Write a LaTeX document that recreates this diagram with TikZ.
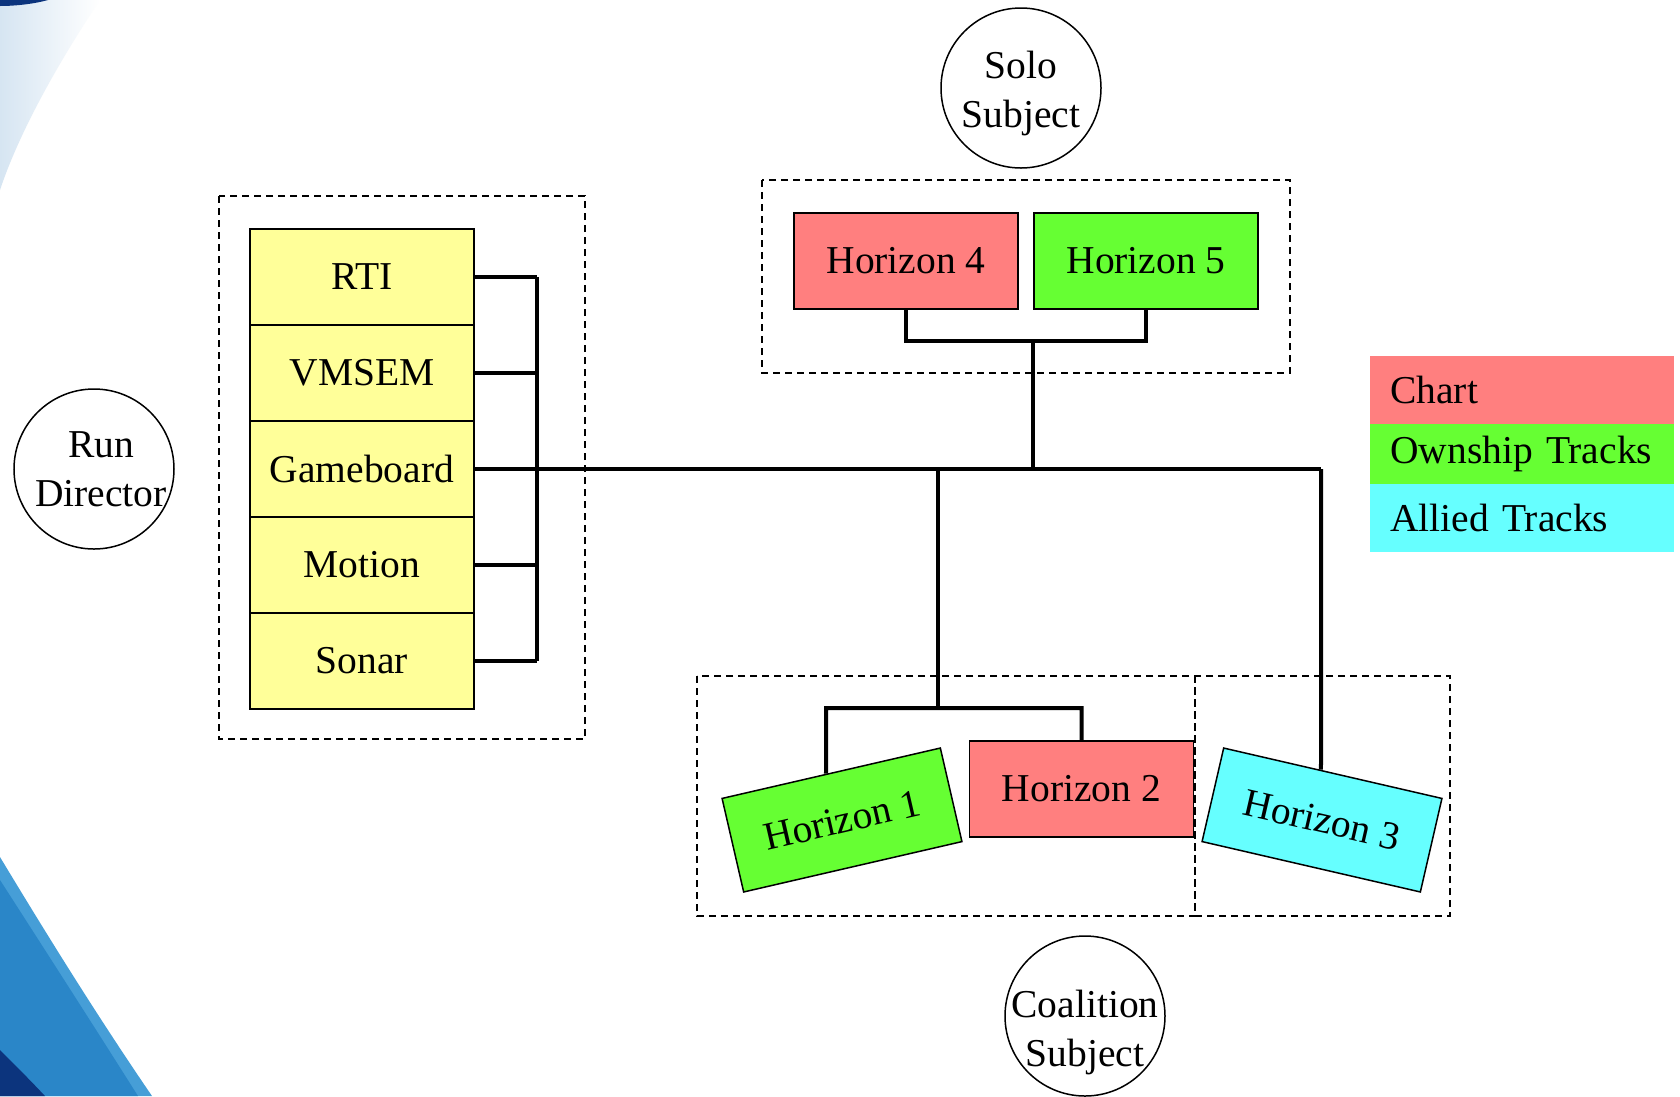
\documentclass[tikz,border=0pt]{standalone}
\usepackage{fontspec}
\setmainfont{Liberation Serif}
\usetikzlibrary{calc}
\definecolor{cpink}{RGB}{255,127,127}
\definecolor{cgreen}{RGB}{102,255,51}
\definecolor{ccyan}{RGB}{102,255,255}
\definecolor{cyellow}{RGB}{255,255,153}
\definecolor{bgblue}{RGB}{42,134,200}
\definecolor{bgblue2}{RGB}{70,158,215}
\definecolor{bgnavy}{RGB}{12,52,125}
\definecolor{bglight}{RGB}{214,229,242}
\newcommand{\twolines}[3]{\smash{\makebox[0pt]{\raisebox{#1}{\fontsize{39.5}{49}\selectfont\begin{tabular}{@{}c@{}}#2\\#3\end{tabular}}}}}
\begin{document}
\begin{tikzpicture}[x=1pt,y=-1pt,
 every node/.style={font=\fontsize{39.5}{48}\selectfont},
 hbox/.style={draw=black, line width=1.5pt, minimum width=224pt, minimum height=96pt, inner sep=0pt},
 stackbox/.style={hbox, fill=cyellow},
 subj/.style={circle, draw=black, line width=1.5pt, minimum size=160pt, inner sep=0pt, fill=white},
 grp/.style={draw=black, line width=1.5pt, dash pattern=on 7pt off 5pt},
 wire/.style={draw=black, line width=4pt},
 legrow/.style={anchor=north west, minimum width=304pt, text width=264pt, inner xsep=20pt, inner ysep=0pt, align=left}
]
\useasboundingbox (0,0) rectangle (1680,1096);
\fill[white] (0,0) rectangle (1680,1096);
% background swoosh
\shade[left color=bglight, right color=white] (0,0) -- (100,0) .. controls (60,60) and (20,130) .. (0,190) -- cycle;
\fill[bgnavy] (0,0) -- (48,0) .. controls (30,5) and (10,6) .. (0,6) -- cycle;
\fill[bgblue2] (0,857) .. controls (50,940) and (100,1020) .. (152,1096) -- (0,1096) -- cycle;
\fill[bgblue] (0,880) .. controls (45,950) and (90,1020) .. (138,1096) -- (0,1096) -- cycle;
\fill[bgnavy] (0,1050) .. controls (15,1065) and (30,1080) .. (45,1096) -- (0,1096) -- cycle;

% groups
\draw[grp] (219,196) rectangle (585,739);
\draw[grp] (762,180) rectangle (1290,373);
\draw[grp] (697,676) rectangle (1195,916);
\draw[grp] (1195,676) rectangle (1450,916);

% stack
\node[stackbox] (rti) at (362,277) {RTI};
\node[stackbox] (vmsem) at (362,373) {VMSEM};
\node[stackbox] (game) at (362,469) {Gameboard};
\node[stackbox] (motion) at (362,565) {Motion};
\node[stackbox] (sonar) at (362,661) {Sonar};

% horizons
\node[hbox, fill=cpink] (h4) at (906,261) {Horizon 4};
\node[hbox, fill=cgreen] (h5) at (1146,261) {Horizon 5};
\node[hbox, fill=cpink] (h2) at (1081.5,789) {Horizon 2};
\node[hbox, fill=cgreen, rotate=13] (h1) at (842,820) {Horizon 1};
\node[hbox, fill=ccyan, rotate=-13] (h3) at (1322,820) {Horizon 3};

% subjects
\node[subj] (solo) at (1021,88) {\twolines{-11pt}{Solo}{Subject}};
\node[subj] (run) at (94,469) {\twolines{-9pt}{\hspace*{14pt}Run}{\hspace*{14pt}Director}};
\node[subj] (coal) at (1085,1016) {\twolines{-22pt}{Coalition}{Subject}};

% legend
\node[legrow, fill=cpink, minimum height=68pt] (lchart) at (1370,356) {Chart};
\node[legrow, fill=cgreen, minimum height=60pt] (lown) at (1370,424) {Ownship Tracks};
\node[legrow, fill=ccyan, minimum height=68pt] (lally) at (1370,484) {Allied Tracks};

% wires
\coordinate (bus) at (537,0);
\foreach \n in {rti,vmsem,game,motion,sonar}
  \draw[wire] (\n.east) -- (\n.east -| bus);
\draw[wire] (rti.east -| bus) -- (sonar.east -| bus);
\coordinate (mainR) at (1321,469);
\draw[wire] (game.east) -- (mainR);

\coordinate (solobar) at (0,341);
\draw[wire] (h4.south) -- (h4.south |- solobar) -- (h5.south |- solobar) -- (h5.south);
\draw[wire] (h5.south west |- solobar) -- (h5.south west |- game.east);

\coordinate (coalbar) at (0,708);
\coordinate (cx) at (938,0);
\draw[wire] (cx |- game.east) -- (cx |- coalbar);
\coordinate (l1) at (826,708);
\coordinate (l1b) at (826,950);
\coordinate (h1top) at (intersection of h1.north west--h1.north east and l1--l1b);
\draw[wire] (h1top) -- (l1) -- (l1 -| h2.north) -- (h2.north);
\coordinate (h3b) at (1321,950);
\coordinate (h3top) at (intersection of h3.north west--h3.north east and mainR--h3b);
\draw[wire] (mainR) -- (h3top);
\end{tikzpicture}
\end{document}
